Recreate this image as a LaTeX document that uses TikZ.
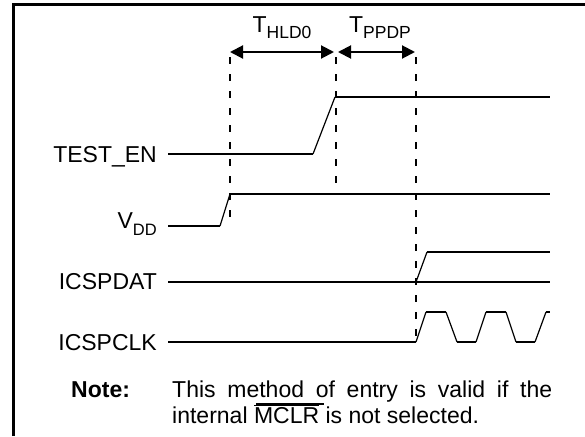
\documentclass[tikz,border=0pt]{standalone}
\usepackage{fontspec}
\setmainfont{Liberation Sans}
\usetikzlibrary{arrows.meta}
\begin{document}
\begin{tikzpicture}[x=1pt,y=-1pt,
  frame/.style={line width=3pt},
  lvl/.style={line width=2pt},
  ramp/.style={line width=1.2pt},
  guide/.style={line width=2pt, dash pattern=on 7pt off 10pt},
  dim/.style={line width=2pt, {Triangle[length=13pt,width=13pt]}-{Triangle[length=13pt,width=13pt]}},
  sig/.style={anchor=base east, inner sep=0pt, font=\fontsize{23}{27}\selectfont},
  tlab/.style={anchor=base, inner sep=0pt, font=\fontsize{23}{27}\selectfont}]
\useasboundingbox (0,0) rectangle (585,436);
\fill[white] (0,0) rectangle (585,436);
% frame
\draw[frame] (13,436) -- (13,5) -- (585,5);
% signal labels
\node[sig] (ten) at (157,162) {TEST\_EN};
\node[sig] (vdd) at (157,228) {V\raisebox{-7pt}{\fontsize{16.5}{16.5}\selectfont DD}};
\node[sig] (dat) at (157,289) {ICSPDAT};
\node[sig] (clk) at (157,350) {ICSPCLK};
% timing labels
\node[tlab] (thld) at (282,33) {T\raisebox{-5.5pt}{\fontsize{17.5}{17.5}\selectfont HLD0}};
\node[tlab] (tppd) at (380,33) {T\raisebox{-5.5pt}{\fontsize{17.5}{17.5}\selectfont PPDP}};
% coordinates
\coordinate (a1) at (230,52); \coordinate (a2) at (334,52);
\coordinate (b1) at (338,52); \coordinate (b2) at (415,52);
\coordinate (d1t) at (230,57); \coordinate (d1b) at (230,223);
\coordinate (d2t) at (336,57); \coordinate (d2b) at (336,191);
\coordinate (d3t) at (416,57); \coordinate (d3b) at (416,342);
% dimension arrows
\draw[dim] (a1) -- (a2);
\draw[dim] (b1) -- (b2);
% guides
\draw[guide] (d1t) -- (d1b);
\draw[guide] (d2t) -- (d2b);
\draw[guide] (d3t) -- (d3b);
% TEST_EN
\draw[lvl] (168,154) -- (313,154);
\draw[ramp] (313,154) -- (335,97);
\draw[lvl] (335,97) -- (550,97);
% VDD
\draw[lvl] (168,226) -- (220,226);
\draw[ramp] (220,226) -- (230,194);
\draw[lvl] (230,194) -- (550,194);
% ICSPDAT
\draw[lvl] (168,282) -- (550,282);
\draw[ramp] (416,282) -- (427,252);
\draw[lvl] (427,252) -- (550,252);
% ICSPCLK
\draw[lvl] (168,342) -- (416,342);
\draw[ramp] (416,342) -- (426,312);
\draw[lvl] (426,312) -- (446,312);
\draw[ramp] (446,312) -- (457,342);
\draw[lvl] (457,342) -- (476,342);
\draw[ramp] (476,342) -- (486,312);
\draw[lvl] (486,312) -- (506,312);
\draw[ramp] (506,312) -- (516,342);
\draw[lvl] (516,342) -- (535,342);
\draw[ramp] (535,342) -- (546,312);
\draw[lvl] (546,312) -- (550,312);
% note
\node[anchor=base west, inner sep=0pt, font=\fontsize{23}{27}\selectfont\bfseries] (nl) at (71,397) {Note:};
\node[anchor=base west, inner sep=0pt, font=\fontsize{23}{27}\selectfont] (nt) at (172,397)
  {\parbox[t]{380pt}{\fontsize{23}{26}\selectfont This method of entry is valid if the\linebreak internal $\overline{\mbox{MCLR}}$ is not selected.}};
\draw[line width=2pt] (256,404) -- (324,404);
\end{tikzpicture}
\end{document}
